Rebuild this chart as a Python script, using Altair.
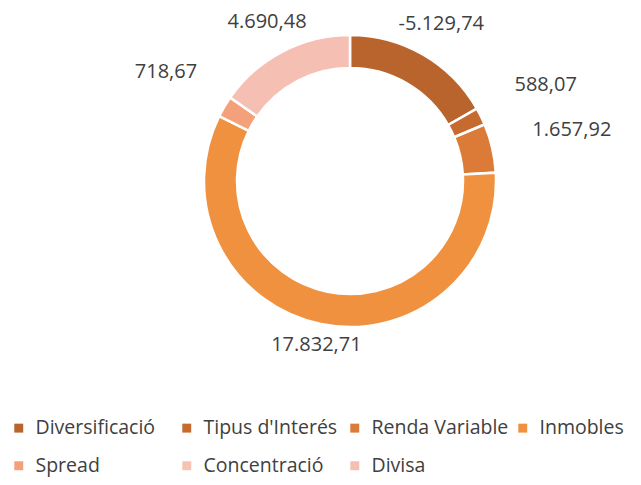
import altair as alt
import pandas as pd

categories = ["Diversificació", "Tipus d'Interés", "Renda Variable", "Inmobles",
              "Spread", "Concentració", "Divisa"]
values = [-5129.74, 588.07, 1657.92, 17832.71, 718.67, 0.0, 4690.48]
colors = ["#b8642c", "#c66a2f", "#dc7b37", "#f0913f", "#f4a07a", "#f6c3b2", "#f6bfb3"]


def fmt(v):
    s = f"{v:,.2f}"
    return s.replace(",", "X").replace(".", ",").replace("X", ".")


df = pd.DataFrame({
    "cat": categories,
    "value": values,
    "order": list(range(len(categories))),
    "label": [fmt(v) for v in values],
})

src = alt.Chart(df).transform_calculate(size="abs(datum.value)")

arc = src.mark_arc(innerRadius=113, outerRadius=146, stroke="white", strokeWidth=2.5).encode(
    theta=alt.Theta("size:Q", stack=True),
    order=alt.Order("order:Q"),
    color=alt.Color(
        "cat:N",
        scale=alt.Scale(domain=categories, range=colors),
        sort=categories,
        legend=alt.Legend(
            title=None,
            orient="none",
            legendX=-91,
            legendY=410,
            direction="horizontal",
            columns=4,
            gridAlign="all",
            symbolType="square",
            symbolSize=80,
            symbolStrokeWidth=0,
            labelFont="Open Sans",
            labelFontSize=19.5,
            labelColor="#404040",
            labelLimit=300,
            columnPadding=4,
            rowPadding=17,
            padding=0,
            labelOffset=7,
        ),
    ),
)

# label at the middle angle of each slice; distance grows for labels beside the ring
text = src.transform_joinaggregate(
    total="sum(size)"
).transform_window(
    cum="sum(size)", sort=[alt.SortField("order")], frame=[None, 0]
).transform_calculate(
    mid="2 * PI * (datum.cum - datum.size / 2) / datum.total"
).transform_calculate(
    rad="165 + 66 * pow(sin(datum.mid), 2)"
).transform_filter("datum.value != 0").mark_text(
    font="Open Sans", fontSize=20, color="#404040"
).encode(
    text="label:N",
    theta=alt.Theta("mid:Q", scale=None, stack=False),
    radius=alt.Radius("rad:Q", scale=None),
)

chart = alt.layer(arc, text).resolve_scale(theta="independent").properties(
    width=500,
    height=346,
    padding={"left": 92, "top": 0, "right": 33, "bottom": 123},
    autosize=alt.AutoSizeParams(type="none"),
).configure_view(stroke=None)

chart.save("out.html", embed_options={"renderer": "svg", "actions": False})
